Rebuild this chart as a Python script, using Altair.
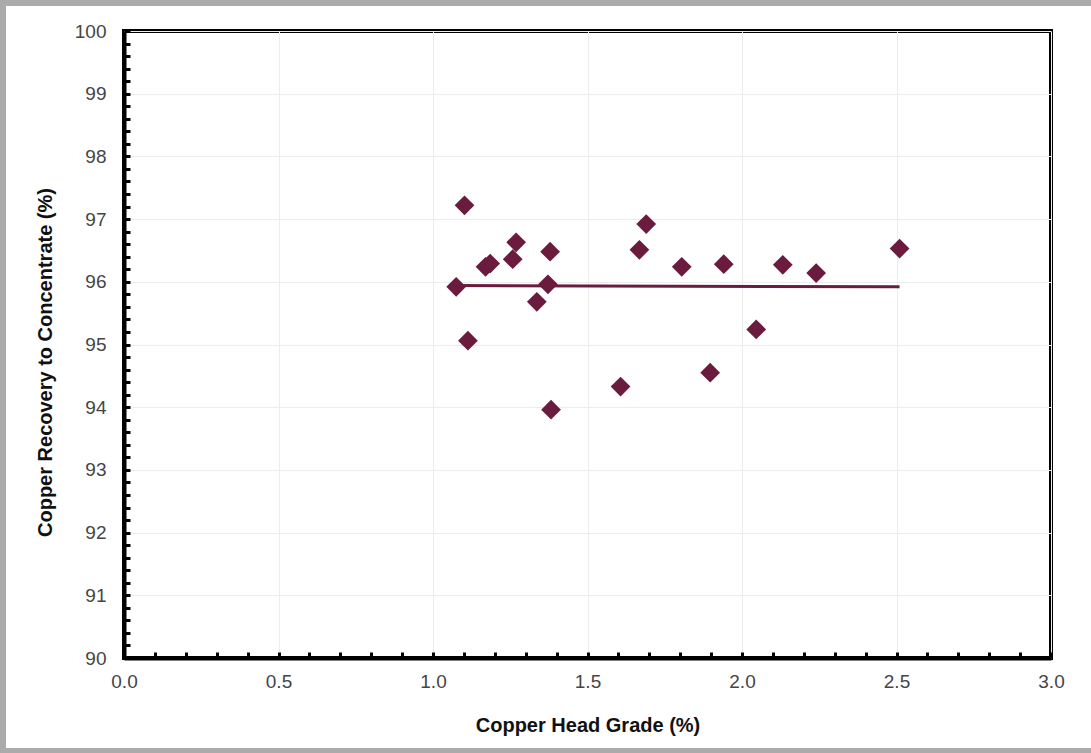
import altair as alt
import pandas as pd

# Data
head_grade = [1.102, 1.170, 1.185, 1.269, 1.258, 1.379, 1.075, 1.372, 1.336, 1.113, 1.382,
              1.607, 1.690, 1.668, 1.805, 1.941, 2.046, 2.132, 2.240, 2.510, 1.897]
recovery = [97.22, 96.24, 96.29, 96.63, 96.36, 96.48, 95.92, 95.96, 95.68, 95.06, 93.96,
            94.33, 96.92, 96.51, 96.24, 96.28, 95.24, 96.27, 96.14, 96.53, 94.55]
trend_x = [1.075, 2.51]
trend_y = [95.94, 95.92]

x_major = [0.0, 0.5, 1.0, 1.5, 2.0, 2.5, 3.0]
y_major = [90, 91, 92, 93, 94, 95, 96, 97, 98, 99, 100]
x_minor = [round(i * 0.1, 1) for i in range(31)]
y_minor = [round(90 + i * 0.2, 1) for i in range(51)]

W, H = 927, 627
COLOR = "#6a1b3e"
FONT = "Liberation Sans"

pts = pd.DataFrame({"x": head_grade, "y": recovery})
trend = pd.DataFrame({"x": trend_x, "y": trend_y})

xs = alt.Scale(domain=[0, 3], nice=False, zero=False)
ys = alt.Scale(domain=[90, 100], nice=False, zero=False)

frame = alt.Chart(pd.DataFrame({"a": [0]})).mark_rect(
    fill=None, stroke="#ababab", strokeWidth=6
).encode(
    x=alt.value(-121), x2=alt.value(1010), y=alt.value(-28), y2=alt.value(720)
)

points = alt.Chart(pts).mark_point(
    shape="diamond", filled=True, size=390, color=COLOR, opacity=1
).encode(
    x=alt.X("x:Q", scale=xs, axis=alt.Axis(
        values=x_major, format=".1f", title="Copper Head Grade (%)",
        grid=True, gridColor="#ececec", gridWidth=1, labelFlush=False,
        ticks=False, domain=True, domainColor="black", domainWidth=4,
        labelFont=FONT, labelFontSize=19, labelColor="#454545", labelPadding=14,
        titleFont=FONT, titleFontSize=20, titleFontWeight="bold", titleColor="#111111",
        titleY=67, titleBaseline="middle")),
    y=alt.Y("y:Q", scale=ys, axis=alt.Axis(
        values=y_major, format="d", title="Copper Recovery to Concentrate (%)",
        grid=True, gridColor="#ececec", gridWidth=1, labelFlush=False,
        ticks=False, domain=True, domainColor="black", domainWidth=4,
        labelFont=FONT, labelFontSize=19, labelColor="#454545", labelPadding=18,
        titleFont=FONT, titleFontSize=20, titleFontWeight="bold", titleColor="#111111",
        titleX=-79, titleY=331, titleBaseline="middle", titleAngle=270)),
)

line = alt.Chart(trend).mark_line(color=COLOR, strokeWidth=3).encode(
    x=alt.X("x:Q", scale=xs, axis=None),
    y=alt.Y("y:Q", scale=ys, axis=None),
)

tick_layer = alt.Chart(trend).mark_point(opacity=0).encode(
    x=alt.X("x:Q", scale=xs, axis=alt.Axis(
        orient="top", offset=-H, values=x_minor, labels=False, domain=False,
        grid=False, ticks=True, tickSize=6, tickWidth=3, tickColor="black", title=None)),
    y=alt.Y("y:Q", scale=ys, axis=alt.Axis(
        orient="right", offset=-W, values=y_minor, labels=False, domain=False,
        grid=False, ticks=True, tickSize=6, tickWidth=3, tickColor="black", title=None)),
)

chart = alt.layer(frame, points, line, tick_layer).resolve_scale(
    x="independent", y="independent"
).resolve_axis(x="independent", y="independent").properties(
    width=W, height=H,
    autosize=alt.AutoSizeParams(type="none"),
    padding={"left": 124, "top": 31, "right": 40, "bottom": 95},
    background="white",
).configure_view(stroke="black", strokeWidth=4)

chart.save("out.html", embed_options={"renderer": "svg", "actions": False})
